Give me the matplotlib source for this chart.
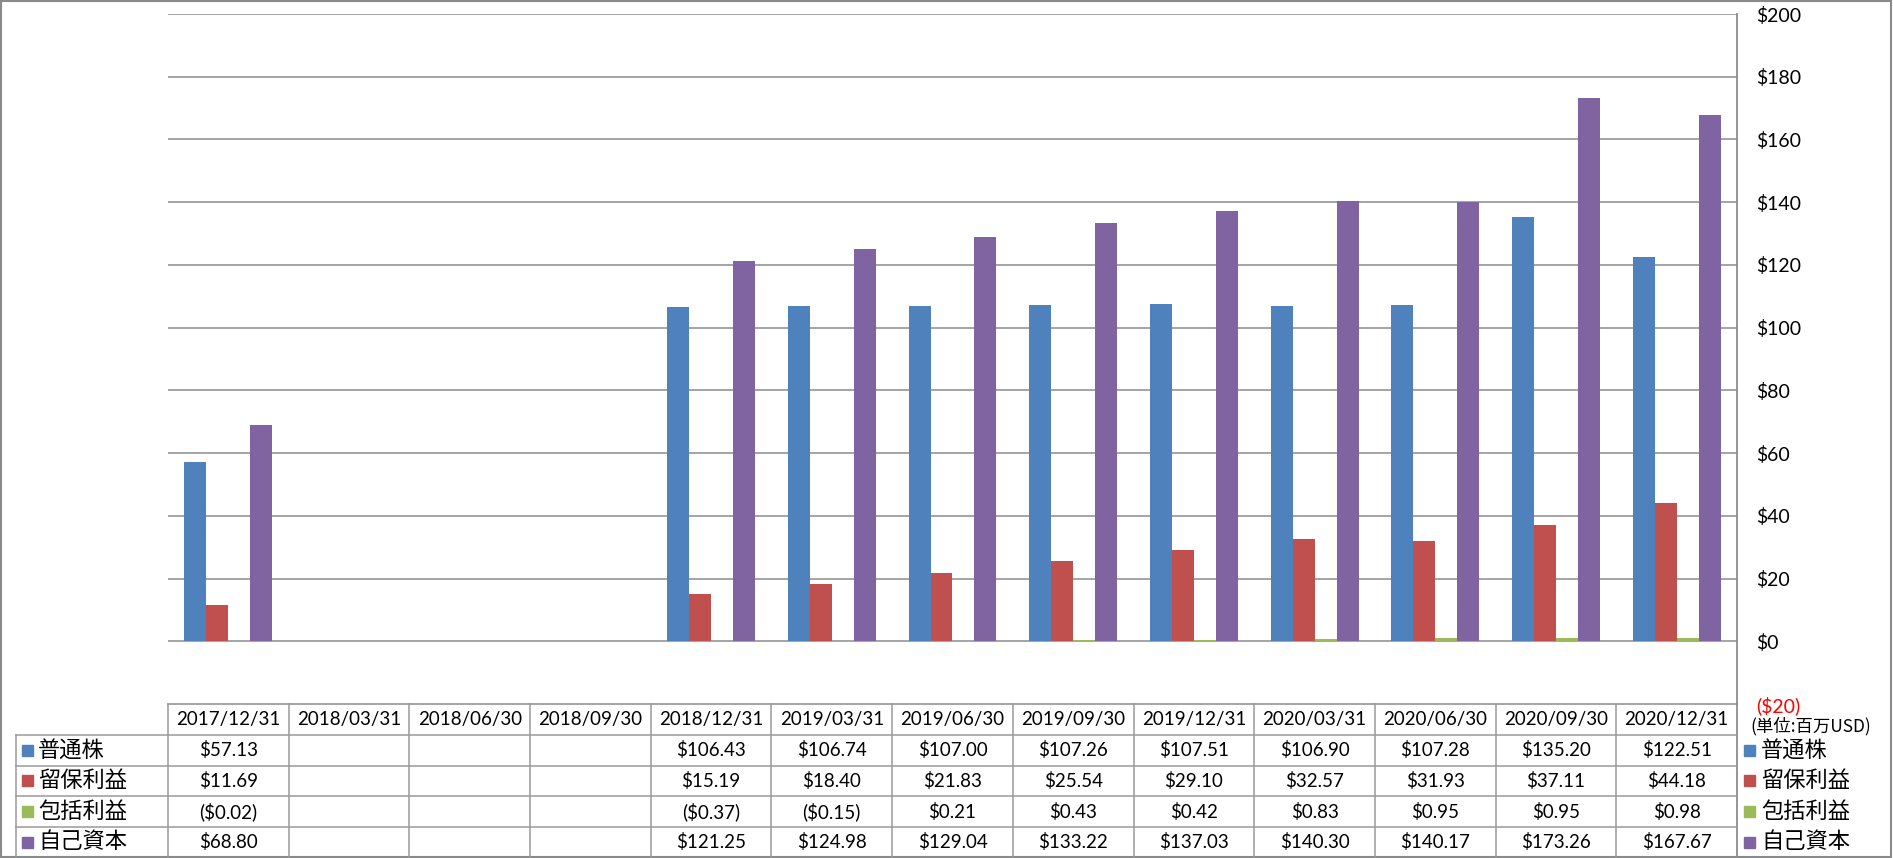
import matplotlib
matplotlib.use("Agg")
import matplotlib.pyplot as plt
from matplotlib.patches import Rectangle
from matplotlib.lines import Line2D
import numpy as np

plt.rcParams['font.family'] = ['Noto Sans CJK JP', 'DejaVu Sans']

# ---- data ----
dates = ["2017/12/31", "2018/03/31", "2018/06/30", "2018/09/30", "2018/12/31",
         "2019/03/31", "2019/06/30", "2019/09/30", "2019/12/31", "2020/03/31",
         "2020/06/30", "2020/09/30", "2020/12/31"]
series_names = ["普通株", "留保利益", "包括利益", "自己資本"]
common_stock = [57.13, None, None, None, 106.43, 106.74, 107.00, 107.26, 107.51, 106.90, 107.28, 135.20, 122.51]
retained_earnings = [11.69, None, None, None, 15.19, 18.40, 21.83, 25.54, 29.10, 32.57, 31.93, 37.11, 44.18]
comprehensive_income = [-0.02, None, None, None, -0.37, -0.15, 0.21, 0.43, 0.42, 0.83, 0.95, 0.95, 0.98]
equity = [68.80, None, None, None, 121.25, 124.98, 129.04, 133.22, 137.03, 140.30, 140.17, 173.26, 167.67]
y_ticks = [-20, 0, 20, 40, 60, 80, 100, 120, 140, 160, 180, 200]
unit_label = "(単位:百万USD)"

series = [common_stock, retained_earnings, comprehensive_income, equity]
colors = ["#4F81BD", "#C0504D", "#9BBB59", "#8064A2"]

W, H = 1893, 858
fig = plt.figure(figsize=(W / 100, H / 100), dpi=100)

def fx(px):
    return px / W

def fy(py):
    return 1 - py / H

GRID = "#8C8C8C"
LINE = "#9A9A9A"
NUMFONT = ['Lato', 'DejaVu Sans']

# plot area
L, R, T, B = 168, 1737, 14, 704
ax = fig.add_axes([fx(L), fy(B), fx(R) - fx(L), fy(T) - fy(B)])
n = len(dates)
x = np.arange(n)
bw = 0.182
for i, (vals, c) in enumerate(zip(series, colors)):
    v = np.array([np.nan if a is None else a for a in vals], dtype=float)
    ax.bar(x + (i - 1.5) * bw, v, width=bw, color=c, linewidth=0, zorder=3)

ax.set_xlim(-0.5, n - 0.5)
ax.set_ylim(-20, 200)
ax.set_xticks([])
ax.set_yticks(y_ticks)
for yv in y_ticks:
    if yv > -20:
        ax.axhline(yv, color=GRID, lw=1.1, zorder=1)
ax.yaxis.tick_right()
ax.tick_params(axis='y', length=0, pad=14)

def fmt(v):
    return f"(${abs(v):.0f})" if v < 0 else f"${v:.0f}"

ax.set_yticklabels([fmt(v) for v in y_ticks], fontsize=14, family=NUMFONT)
for lab, v in zip(ax.get_yticklabels(), y_ticks):
    if v < 0:
        lab.set_color("red")
for s in ["top", "left", "bottom", "right"]:
    ax.spines[s].set_visible(False)

# ---- table & decorations in figure coords ----
def hline(x0, x1, y, color=LINE, lw=1.1):
    fig.add_artist(Line2D([fx(x0), fx(x1)], [fy(y), fy(y)], color=color, lw=lw,
                          transform=fig.transFigure))

def vline(xp, y0, y1, color=LINE, lw=1.1):
    fig.add_artist(Line2D([fx(xp), fx(xp)], [fy(y0), fy(y1)], color=color, lw=lw,
                          transform=fig.transFigure))

# right axis line
vline(R, T, 857, color=GRID, lw=1.3)
# table top
hline(L, R, B, color=GRID, lw=1.1)
row_edges = [704, 735, 765.5, 796, 827, 857]
label_left = 16
for ry in row_edges[1:-1]:
    hline(label_left, R, ry)
vline(label_left, row_edges[1], 857)
colw = (R - L) / n
for k in range(n):
    vline(L + k * colw, B, 857)

# header text
hy = (row_edges[0] + row_edges[1]) / 2
for k, d in enumerate(dates):
    fig.text(fx(L + (k + 0.5) * colw), fy(hy), d, ha='center', va='center',
             fontsize=13.5, family=NUMFONT)

def fmt_val(v):
    if v is None:
        return ""
    return f"(${abs(v):.2f})" if v < 0 else f"${v:.2f}"

for r, (name, vals, c) in enumerate(zip(series_names, series, colors)):
    cy = (row_edges[r + 1] + row_edges[r + 2]) / 2
    # left label with marker
    fig.add_artist(Rectangle((fx(22), fy(cy + 5.5)), fx(11), fy(0) - fy(11),
                             color=c, transform=fig.transFigure))
    fig.text(fx(38), fy(cy), name, ha='left', va='center', fontsize=16)
    for k, v in enumerate(vals):
        fig.text(fx(L + (k + 0.5) * colw), fy(cy), fmt_val(v), ha='center', va='center',
                 fontsize=13.5, family=NUMFONT)
    # right legend
    fig.add_artist(Rectangle((fx(1744), fy(cy + 5.5)), fx(11), fy(0) - fy(11),
                             color=c, transform=fig.transFigure))
    fig.text(fx(1761), fy(cy), name, ha='left', va='center', fontsize=16)

fig.text(fx(1750), fy(726), unit_label, ha='left', va='center', fontsize=12.5)

# outer border
fig.add_artist(Rectangle((fx(1), fy(857)), fx(1890), fy(1) - fy(857), fill=False,
                         edgecolor="#8A8A8A", lw=1.5, transform=fig.transFigure))

fig.savefig("out.png", dpi=100)
